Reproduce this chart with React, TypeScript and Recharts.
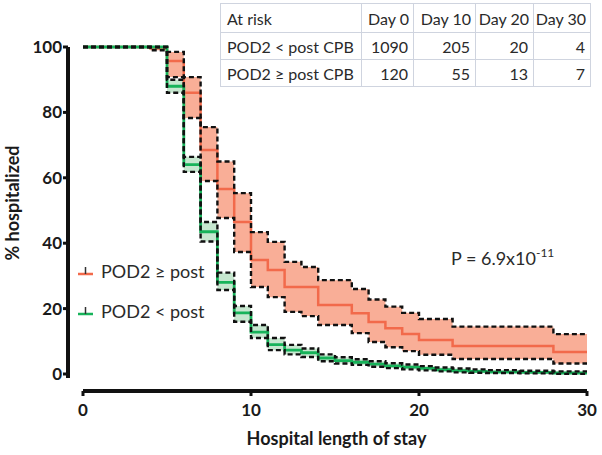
import React from 'react';
import { ComposedChart, Line, Area, XAxis, YAxis, Legend } from 'recharts';

// Kaplan-Meier step breakpoints (days)
const days = [0, 4, 5, 6, 7, 8, 9, 10, 11, 12, 13, 14, 15, 16, 17, 18, 19, 20, 21, 22, 23, 24, 26, 28, 30];

// POD2 >= post (orange)
const highEst = [100, 99.6, 95.7, 86, 68.5, 56.6, 46.5, 34.9, 31.8, 26.6, 26.6, 21.1, 21.1, 18.6, 15.9, 14, 12.2, 10.4, 10.4, 8.6, 8.6, 8.6, 8.6, 6.7, 6.7];
const highLo = [100, 99, 90.8, 78.3, 59, 47.7, 37.3, 26.6, 23.5, 19, 17.7, 15, 15, 12.5, 9.8, 8.2, 7, 5.9, 5.9, 4.6, 4.6, 4.6, 4.6, 3.2, 3.2];
const highHi = [100, 100, 98.5, 90.8, 75.5, 65, 55.3, 43.4, 40.4, 34.3, 32.7, 28.7, 28.7, 26, 22.8, 20.6, 18.7, 16.8, 16.8, 14.5, 14.5, 14.5, 14.5, 12.2, 12.2];

// POD2 < post (green)
const lowEst = [100, 100, 88, 64, 43.5, 28, 18.7, 12.8, 9, 7.3, 6.5, 4.9, 4.1, 3.6, 3, 2.5, 2.1, 1.7, 1.3, 1.0, 0.8, 0.6, 0.5, 0.3, 0.3];
const lowLo = [100, 100, 86, 61.8, 40.5, 25.7, 16, 11, 7.3, 6, 5.2, 3.9, 3.2, 2.8, 2.2, 1.8, 1.4, 1.1, 0.8, 0.5, 0.4, 0.3, 0.2, 0.05, 0.05];
const lowHi = [100, 100, 90, 66.4, 46.5, 31, 20.8, 15, 11, 8.9, 7.8, 6, 5.1, 4.5, 3.9, 3.3, 2.9, 2.4, 2, 1.7, 1.4, 1.2, 1.0, 0.8, 0.8];

const xTicks = [0, 10, 20, 30];
const yTicks = [0, 20, 40, 60, 80, 100];

const seriesNames = ['POD2 \u2265 post', 'POD2 < post'];

// At-risk table
const riskHeader = ['At risk', 'Day 0', 'Day 10', 'Day 20', 'Day 30'];
const riskRowLabels = ['POD2 < post CPB', 'POD2 \u2265 post CPB'];
const riskLowRow = [1090, 205, 20, 4];
const riskHighRow = [120, 55, 13, 7];

const pText = 'P = 6.9x10';
const pExp = '-11';

const data = days.map((d, i) => ({
  day: d,
  hEst: highEst[i],
  hLo: highLo[i],
  hHi: highHi[i],
  lEst: lowEst[i],
  lLo: lowLo[i],
  lHi: lowHi[i],
}));

const ORANGE = '#f26a4b';
const ORANGE_FILL = '#f9ae97';
const GREEN = '#17b35a';
const GREEN_FILL = '#c6e7cf';
const FONT = 'Lato, "Open Sans", sans-serif';

const renderLegend = (props: any) => {
  const items = [...(props.payload || [])]
    .filter((e: any) => seriesNames.includes(e.value))
    .sort((a: any, b: any) => seriesNames.indexOf(a.value) - seriesNames.indexOf(b.value));
  return (
    <div style={{ fontFamily: FONT }}>
      {items.map((e: any) => (
        <div key={e.value} style={{ display: 'flex', alignItems: 'center', height: 40 }}>
          <svg width={15} height={12} style={{ marginRight: 8 }}>
            <line x1={0} y1={9} x2={15} y2={9} stroke={e.color} strokeWidth={2.5} />
            <line x1={7.5} y1={2} x2={7.5} y2={9} stroke="#333" strokeWidth={1.5} />
          </svg>
          <span style={{ fontSize: 18, color: '#2a2a2a' }}>{e.value}</span>
        </div>
      ))}
    </div>
  );
};

const cellBorder = '1px solid #cfd4df';
const colWidths = [141, 52, 62, 58, 57];

export default function App() {
  const dash = '5 3';
  return (
    <div style={{ position: 'absolute', left: 0, top: 0, width: 602, height: 455, background: '#fff', fontFamily: FONT }}>
      <ComposedChart width={602} height={455} data={data} margin={{ top: 47, right: 15, bottom: 14, left: 8 }}>
        <XAxis
          type="number"
          dataKey="day"
          domain={[0, 30]}
          ticks={xTicks}
          padding={{ left: 15, right: 0 }}
          height={50}
          axisLine={{ stroke: '#111', strokeWidth: 4, strokeDasharray: '0 15 506 20' }}
          tickLine={{ stroke: '#111', strokeWidth: 3 }}
          tickSize={5}
          tickMargin={8}
          tick={{ fill: '#1a1a1a', fontSize: 17, fontWeight: 700, fontFamily: FONT }}
          label={{ value: 'Hospital length of stay', position: 'insideBottom', offset: -4, dx: 9, fill: '#1a1a1a', fontSize: 18, fontWeight: 700, fontFamily: FONT }}
        />
        <YAxis
          type="number"
          domain={[0, 100]}
          ticks={yTicks}
          padding={{ top: 0, bottom: 17 }}
          width={60}
          axisLine={{ stroke: '#111', strokeWidth: 4, strokeDasharray: '331 40' }}
          tickLine={{ stroke: '#111', strokeWidth: 3 }}
          tickSize={5}
          tickMargin={1}
          tick={{ fill: '#1a1a1a', fontSize: 17, fontWeight: 700, fontFamily: FONT }}
          label={{ value: '% hospitalized', angle: -90, position: 'center', dx: -25, dy: -16, fill: '#1a1a1a', fontSize: 18, fontWeight: 700, fontFamily: FONT }}
        />
        <Area type="stepAfter" dataKey={(d: any) => [d.hLo, d.hHi]} stroke="none" fill={ORANGE_FILL} fillOpacity={1} isAnimationActive={false} legendType="none" />
        <Area type="stepAfter" dataKey={(d: any) => [d.lLo, d.lHi]} stroke="none" fill={GREEN_FILL} fillOpacity={1} isAnimationActive={false} legendType="none" />
        <Line type="stepAfter" dataKey="hEst" name={seriesNames[0]} stroke={ORANGE} strokeWidth={2.5} dot={false} activeDot={false} isAnimationActive={false} />
        <Line type="stepAfter" dataKey="lEst" name={seriesNames[1]} stroke={GREEN} strokeWidth={2.8} dot={false} activeDot={false} isAnimationActive={false} />
        <Line type="stepAfter" dataKey="hLo" stroke="#111" strokeWidth={2.4} strokeDasharray={dash} dot={false} activeDot={false} isAnimationActive={false} legendType="none" />
        <Line type="stepAfter" dataKey="hHi" stroke="#111" strokeWidth={2.4} strokeDasharray={dash} dot={false} activeDot={false} isAnimationActive={false} legendType="none" />
        <Line type="stepAfter" dataKey="lLo" stroke="#111" strokeWidth={2.4} strokeDasharray={dash} dot={false} activeDot={false} isAnimationActive={false} legendType="none" />
        <Line type="stepAfter" dataKey="lHi" stroke="#111" strokeWidth={2.4} strokeDasharray={dash} dot={false} activeDot={false} isAnimationActive={false} legendType="none" />
        <Legend
          layout="horizontal"
          verticalAlign="middle"
          align="center"
          content={renderLegend}
          wrapperStyle={{ position: 'absolute', left: 78, top: 251, width: 160, height: 80 }}
        />
      </ComposedChart>

      <table
        style={{
          position: 'absolute',
          left: 220,
          top: 3,
          borderCollapse: 'collapse',
          fontSize: 16,
          color: '#2a2a2a',
          fontFamily: FONT,
          tableLayout: 'fixed',
          width: 370,
          background: '#fff',
        }}
      >
        <colgroup>
          {colWidths.map((w, i) => (
            <col key={i} style={{ width: w }} />
          ))}
        </colgroup>
        <tbody>
          <tr style={{ height: 29 }}>
            {riskHeader.map((h, i) => (
              <td key={h} style={{ border: cellBorder, padding: i === 0 ? '0 0 0 6px' : '0 4px 0 0', textAlign: i === 0 ? 'left' : 'right', whiteSpace: 'nowrap' }}>
                {h}
              </td>
            ))}
          </tr>
          {[riskLowRow, riskHighRow].map((row, r) => (
            <tr key={r} style={{ height: 27 }}>
              <td style={{ border: cellBorder, padding: '0 0 0 6px', whiteSpace: 'nowrap' }}>{riskRowLabels[r]}</td>
              {row.map((v, i) => (
                <td key={i} style={{ border: cellBorder, padding: '0 5px 0 0', textAlign: 'right' }}>
                  {v}
                </td>
              ))}
            </tr>
          ))}
        </tbody>
      </table>

      <div style={{ position: 'absolute', left: 451, top: 249, fontSize: 18, lineHeight: '18px', color: '#2a2a2a', fontFamily: FONT, whiteSpace: 'nowrap' }}>
        {pText}
        <span style={{ position: 'relative', top: -8, fontSize: 12 }}>{pExp}</span>
      </div>
    </div>
  );
}
